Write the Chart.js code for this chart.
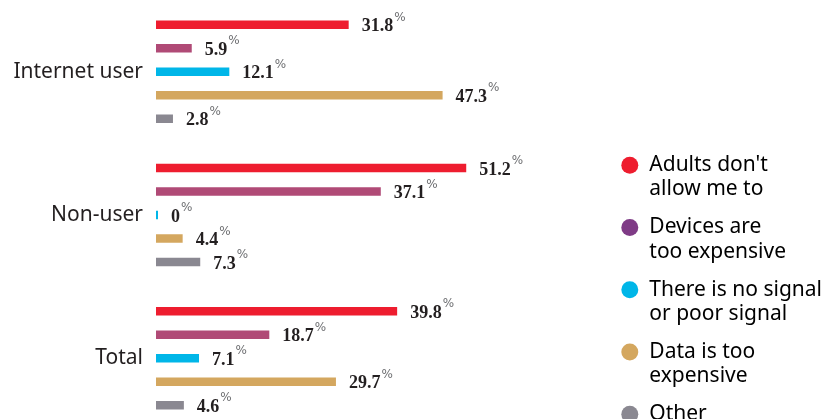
<!DOCTYPE html>
<html>
<head>
<meta charset="utf-8">
<script src="https://cdn.jsdelivr.net/npm/chart.js@4/dist/chart.umd.min.js"></script>
<style>
  html, body { margin: 0; padding: 0; background: #fff; overflow: hidden; }
</style>
</head>
<body>
<canvas id="chart" width="839" height="442"></canvas>
<script>
const categories = ['Internet user', 'Non-user', 'Total'];
const reasons = ["Adults don't allow me to", 'Devices are too expensive', 'There is no signal or poor signal', 'Data is too expensive', 'Other'];
const legendLines = [["Adults don't", 'allow me to'], ['Devices are', 'too expensive'], ['There is no signal', 'or poor signal'], ['Data is too', 'expensive'], ['Other']];

const adultsValues = [31.8, 51.2, 39.8];
const devicesValues = [5.9, 37.1, 18.7];
const signalValues = [12.1, 0, 7.1];
const dataValues = [47.3, 4.4, 29.7];
const otherValues = [2.8, 7.3, 4.6];

const barColors = ['#ee1d2f', '#b04a76', '#00b6e8', '#d4a75f', '#8a8891'];
const legendColors = ['#ee1d2f', '#7f3b86', '#00b6e8', '#d4a75f', '#8a8891'];

const seriesValues = [adultsValues, devicesValues, signalValues, dataValues, otherValues];

// value labels with a small raised % sign
const valueLabels = {
    id: 'valueLabels',
    afterDatasetsDraw(chart) {
        const ctx = chart.ctx;
        ctx.save();
        ctx.textAlign = 'left';
        ctx.textBaseline = 'middle';
        chart.data.datasets.forEach((ds, i) => {
            chart.getDatasetMeta(i).data.forEach((bar, j) => {
                const v = ds.data[j];
                const txt = v === 0 ? '0' : v.toFixed(1);
                const x = bar.x + 13;
                ctx.font = 'bold 18px "Liberation Serif"';
                ctx.fillStyle = '#231f20';
                ctx.fillText(txt, x, bar.y + 2);
                const w = ctx.measureText(txt).width;
                ctx.font = '12px "DejaVu Sans"';
                ctx.fillStyle = '#6d6e71';
                ctx.fillText('%', x + w + 1, bar.y - 7);
            });
        });
        ctx.restore();
    }
};

const chart = new Chart(document.getElementById('chart'), {
    type: 'bar',
    data: {
        labels: categories,
        datasets: reasons.map((r, i) => ({
            label: r,
            data: seriesValues[i],
            backgroundColor: barColors[i],
            minBarLength: 2,
            barPercentage: 0.36,
            categoryPercentage: 0.82
        }))
    },
    options: {
        indexAxis: 'y',
        responsive: false,
        animation: false,
        layout: { padding: { right: 7 } },
        scales: {
            x: { display: false, min: 0, max: 74.4 },
            y: {
                grid: { display: false, drawTicks: false },
                border: { display: false },
                ticks: { padding: 13, color: '#231f20', font: { family: '"Noto Sans"', size: 21 } },
                afterFit(scale) {
                    scale.width = 156;
                    scale.paddingTop = 0;
                    scale.paddingBottom = 12;
                }
            }
        },
        plugins: {
            tooltip: { enabled: false },
            legend: {
                position: 'right',
                align: 'end',
                maxWidth: 300,
                labels: {
                    usePointStyle: true,
                    pointStyle: 'circle',
                    boxWidth: 18,
                    boxHeight: 12,
                    padding: 14,
                    color: '#231f20',
                    font: { family: '"Noto Sans"', size: 21, lineHeight: 1.15 },
                    generateLabels(chart) {
                        return chart.data.datasets.map((ds, i) => ({
                            text: legendLines[i],
                            fillStyle: legendColors[i],
                            strokeStyle: legendColors[i],
                            lineWidth: 0,
                            pointStyle: 'circle',
                            datasetIndex: i
                        }));
                    }
                }
            }
        }
    },
    plugins: [valueLabels]
});
</script>
</body>
</html>
